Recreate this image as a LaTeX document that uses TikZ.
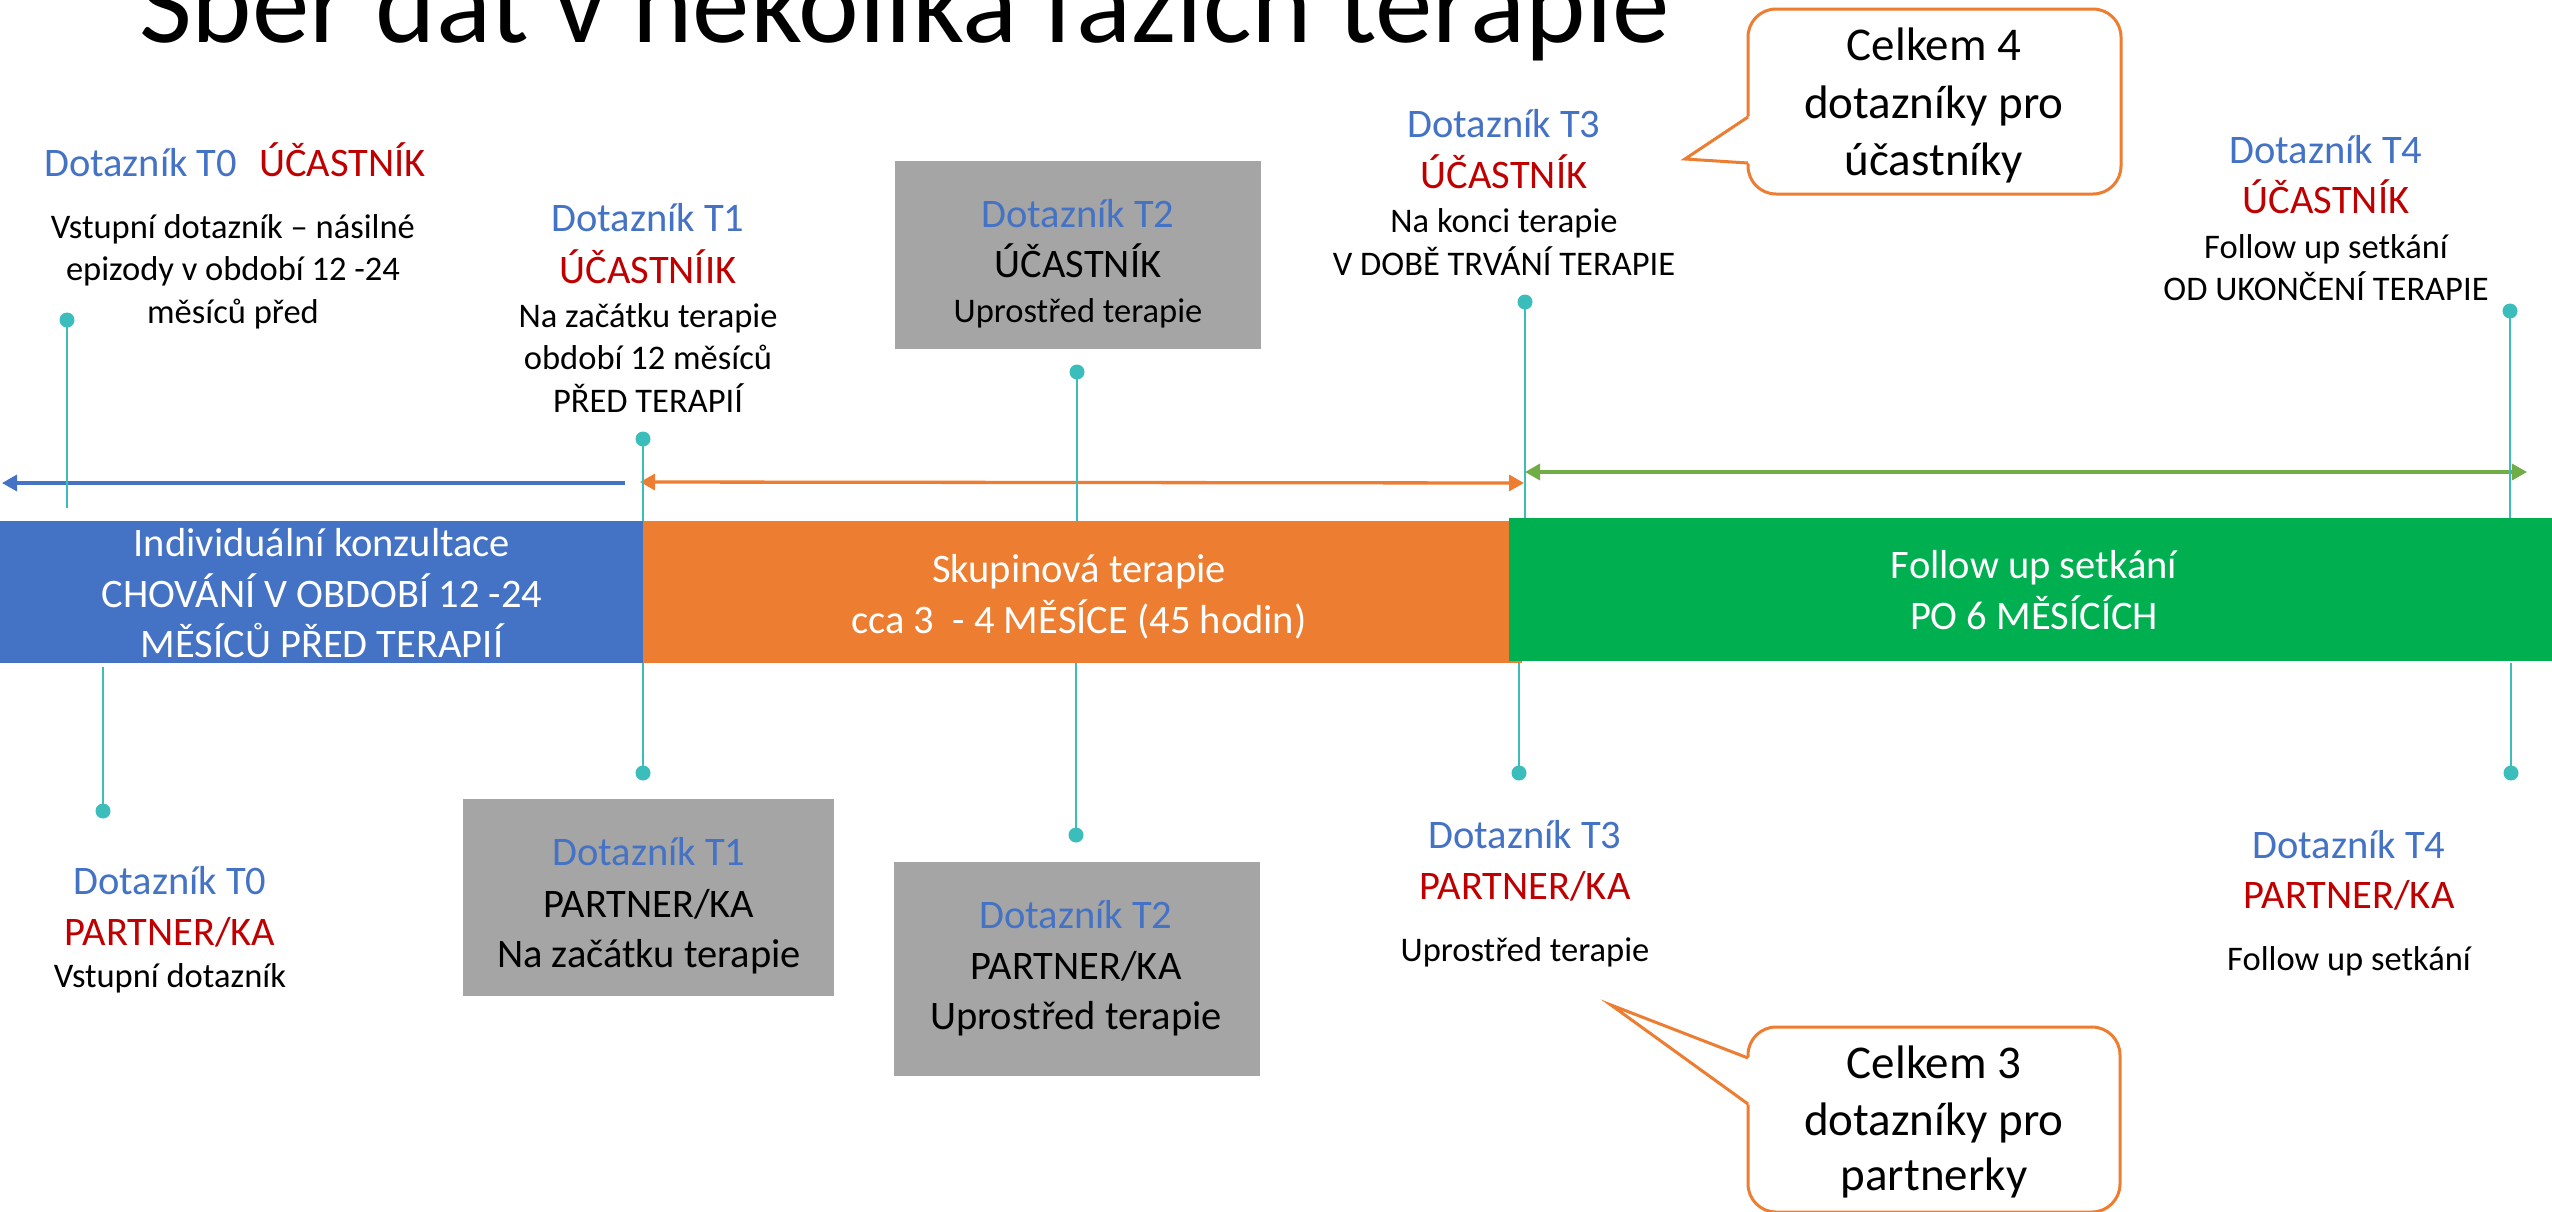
\documentclass[tikz,border=0pt]{standalone}
\usepackage{fontspec}
\setmainfont{Carlito}
\usetikzlibrary{arrows.meta}
\definecolor{hblue}{HTML}{4472C4}
\definecolor{hred}{HTML}{C00000}
\definecolor{borange}{HTML}{ED7D31}
\definecolor{bgreen}{HTML}{00B050}
\definecolor{agreen}{HTML}{70AD47}
\definecolor{hgray}{HTML}{A5A5A5}
\definecolor{hteal}{HTML}{3BBDBB}
\newcommand\fbig{\fontsize{40.5}{48}\selectfont}
\newcommand\fsml{\fontsize{34.5}{42}\selectfont}
\newcommand\fcall{\fontsize{47}{56}\selectfont}
\newcommand\ftitle{\fontsize{115}{138}\selectfont}
\begin{document}
\begin{tikzpicture}[x=1pt,y=-1pt,
  lb/.style={inner sep=0pt, anchor=base, font=\fbig},
  ls/.style={inner sep=0pt, anchor=base, font=\fsml},
  lc/.style={inner sep=0pt, anchor=base, font=\fcall},
  hd/.style={lb, text=hblue},
  rd/.style={lb, text=hred},
  wt/.style={lb, text=white},
  band/.style={inner sep=0pt, outer sep=0pt, draw=none},
  gbox/.style={band, fill=hgray},
  dotmark/.style={circle, fill=hteal, inner sep=0pt, minimum size=15pt},
  stemline/.style={draw=hteal, line width=2.6pt},
  timearrow/.style={line width=3.3pt},
  callbox/.style={draw=borange, line width=3pt, fill=white, rounded corners=28pt, inner sep=0pt},
  callline/.style={draw=borange, line width=3pt, line join=miter}
]
\fill[white] (0,0) rectangle (2552,1211);
\useasboundingbox (0,0) rectangle (2552,1211);

% title
\node[inner sep=0pt, anchor=base west, font=\ftitle] (title) at (139,42) {Sběr dat v několika fázích terapie};

% timeline arrows
\coordinate (ab1) at (625,483);
\coordinate (ab2) at (2,483);
\coordinate (ao1) at (640,482);
\coordinate (ao2) at (1524,483);
\coordinate (ag1) at (1525,472);
\coordinate (ag2) at (2527,472);
\draw[timearrow, draw=hblue, fill=hblue, -{Triangle[length=15pt,width=16pt]}] (ab1) -- (ab2);
\draw[timearrow, draw=borange, fill=borange, {Triangle[length=15pt,width=16pt]}-{Triangle[length=15pt,width=16pt]}] (ao1) -- (ao2);
\draw[timearrow, draw=agreen, fill=agreen, {Triangle[length=15pt,width=16pt]}-{Triangle[length=15pt,width=16pt]}] (ag1) -- (ag2);

% stems and dots
\node[dotmark] (p0t) at (67,320) {};
\node[dotmark] (p1t) at (643,439) {};
\node[dotmark] (p2t) at (1077,372) {};
\node[dotmark] (p3t) at (1525,302) {};
\node[dotmark] (p4t) at (2510,311) {};
\coordinate (q0t) at (67,508);
\coordinate (q1t) at (643,521);
\coordinate (q2t) at (1077,521);
\coordinate (q3t) at (1525,518);
\coordinate (q4t) at (2510,518);
\node[dotmark] (p0b) at (103,811) {};
\node[dotmark] (p1b) at (643,773) {};
\node[dotmark] (p2b) at (1076,835) {};
\node[dotmark] (p3b) at (1519,773) {};
\node[dotmark] (p4b) at (2511,773) {};
\coordinate (q0b) at (103,667);
\coordinate (q1b) at (643,663);
\coordinate (q2b) at (1076,663);
\coordinate (q3b) at (1519,661);
\coordinate (q4b) at (2511,663);
\foreach \i in {0,...,4}{
  \draw[stemline] (p\i t.center) -- (q\i t);
  \draw[stemline] (q\i b) -- (p\i b.center);
}

% phase bands
\node[band, fill=hblue, minimum width=643pt, minimum height=142pt] (bblue) at (321.5,592) {};
\node[band, fill=borange, minimum width=879pt, minimum height=142pt] (borg) at (1082.5,592) {};
\node[band, fill=bgreen, minimum width=1043pt, minimum height=143pt] (bgrn) at (2030.5,589.5) {};
\node[wt] (bl1) at (322,556) {Individuální konzultace};
\node[wt] (bl2) at (322,607) {CHOVÁNÍ V OBDOBÍ 12 -24};
\node[wt] (bl3) at (322,657) {MĚSÍCŮ PŘED TERAPIÍ};
\node[wt] (or1) at (1079,582) {Skupinová terapie};
\node[wt] (or2) at (1079,633) {cca 3~~- 4 MĚSÍCE (45 hodin)};
\node[wt] (gr1) at (2034,578) {Follow up setkání};
\node[wt] (gr2) at (2034,629) {PO 6 MĚSÍCÍCH};

% top annotations
\node[lb] (t0a) at (235,176) {\textcolor{hblue}{Dotazník T0}\hspace{22pt}\textcolor{hred}{ÚČASTNÍK}};
\node[ls] (t0b) at (233,238) {Vstupní dotazník – násilné};
\node[ls] (t0c) at (233,280) {epizody v období 12 -24};
\node[ls] (t0d) at (233,323) {měsíců před};

\node[hd] (t1a) at (648,231) {Dotazník T1};
\node[rd] (t1b) at (648,283) {ÚČASTNÍIK};
\node[ls] (t1c) at (648,327) {Na začátku terapie};
\node[ls] (t1d) at (648,369) {období 12 měsíců};
\node[ls] (t1e) at (648,412) {PŘED TERAPIÍ};

\node[gbox, minimum width=366pt, minimum height=188pt] (g2t) at (1078,255) {};
\node[hd] (t2a) at (1078,227) {Dotazník T2};
\node[lb] (t2b) at (1078,277) {ÚČASTNÍK};
\node[ls] (t2c) at (1078,322) {Uprostřed terapie};

\node[hd] (t3a) at (1504,137) {Dotazník T3};
\node[rd] (t3b) at (1504,188) {ÚČASTNÍK};
\node[ls] (t3c) at (1504,232) {Na konci terapie};
\node[ls] (t3d) at (1504,275) {V DOBĚ TRVÁNÍ TERAPIE};

\node[hd] (t4a) at (2326,163) {Dotazník T4};
\node[rd] (t4b) at (2326,213) {ÚČASTNÍK};
\node[ls] (t4c) at (2326,258) {Follow up setkání};
\node[ls] (t4d) at (2326,300) {OD UKONČENÍ TERAPIE};

% bottom annotations
\node[hd] (b0a) at (170,894) {Dotazník T0};
\node[rd] (b0b) at (170,945) {PARTNER/KA};
\node[ls] (b0c) at (170,987) {Vstupní dotazník};

\node[gbox, minimum width=371pt, minimum height=197pt] (g1b) at (648.5,897.5) {};
\node[hd] (b1a) at (649,865) {Dotazník T1};
\node[lb] (b1b) at (649,917) {PARTNER/KA};
\node[lb] (b1c) at (649,967) {Na začátku terapie};

\node[gbox, minimum width=366pt, minimum height=214pt] (g2b) at (1077,969) {};
\node[hd] (b2a) at (1076,928) {Dotazník T2};
\node[lb] (b2b) at (1076,979) {PARTNER/KA};
\node[lb] (b2c) at (1076,1029) {Uprostřed terapie};

\node[hd] (b3a) at (1525,848) {Dotazník T3};
\node[rd] (b3b) at (1525,899) {PARTNER/KA};
\node[ls] (b3c) at (1525,961) {Uprostřed terapie};

\node[hd] (b4a) at (2349,858) {Dotazník T4};
\node[rd] (b4b) at (2349,908) {PARTNER/KA};
\node[ls] (b4c) at (2349,970) {Follow up setkání};

% callout 1
\node[callbox, minimum width=373pt, minimum height=185pt] (c1) at (1934.5,101.5) {};
\coordinate (c1u) at (1748,117);
\coordinate (c1tip) at (1685,159);
\coordinate (c1l) at (1748,163);
\fill[white] (1752,115) -- (c1u) -- (c1tip) -- (c1l) -- (1752,165) -- cycle;
\draw[callline] (c1u) -- (c1tip) -- (c1l);
\node[lc] (c1a) at (1934,60) {Celkem 4};
\node[lc] (c1b) at (1934,118) {dotazníky pro};
\node[lc] (c1c) at (1934,175) {účastníky};

% callout 2
\node[callbox, minimum width=372pt, minimum height=185pt] (c2) at (1934,1119.5) {};
\coordinate (c2u) at (1748,1058);
\coordinate (c2tip) at (1611,1005);
\coordinate (c2l) at (1748,1104);
\fill[white] (1752,1056) -- (c2u) -- (c2tip) -- (c2l) -- (1752,1106) -- cycle;
\draw[callline] (c2u) -- (c2tip) -- (c2l);
\node[lc] (c2a) at (1934,1078) {Celkem 3};
\node[lc] (c2b) at (1934,1135) {dotazníky pro};
\node[lc] (c2c) at (1934,1190) {partnerky};
\end{tikzpicture}
\end{document}
